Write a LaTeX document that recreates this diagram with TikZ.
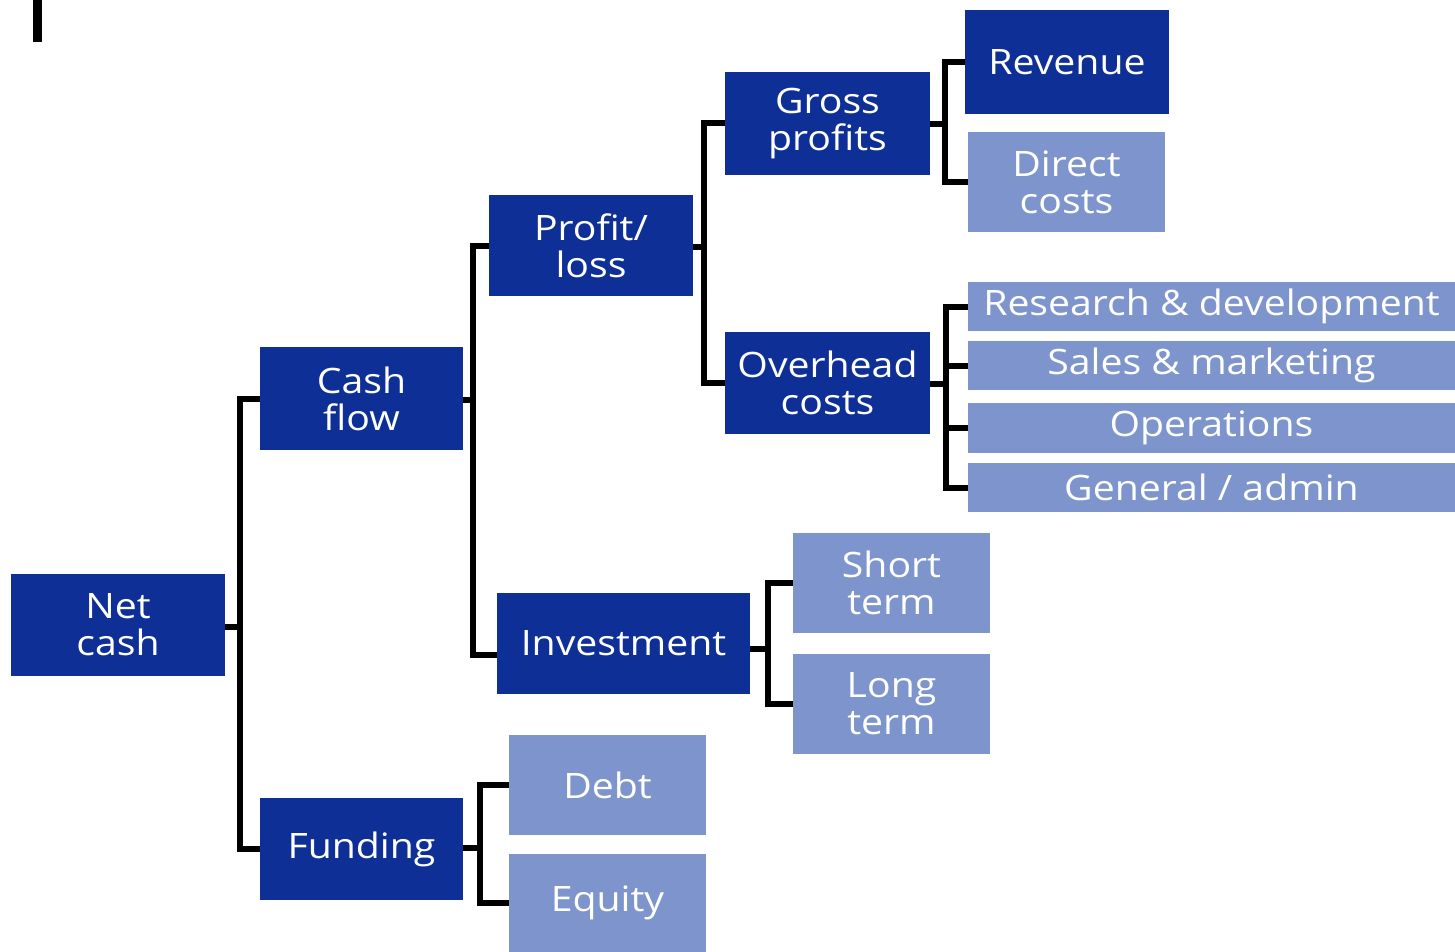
\documentclass[tikz,border=0pt]{standalone}
\usepackage{fontspec}
\setmainfont{Open Sans}[FakeStretch=1.12]
\definecolor{darkbox}{RGB}{14,48,150}
\definecolor{lightbox}{RGB}{126,148,204}
\begin{document}
\begin{tikzpicture}[x=1pt,y=-1pt,
  box/.style={rectangle, inner sep=0pt, text=white, align=center,
    font=\fontsize{35}{37}\selectfont},
  dbox/.style={box, fill=darkbox},
  lbox/.style={box, fill=lightbox},
  conn/.style={draw=black, line width=6pt, line cap=butt, line join=miter}]
\useasboundingbox (0,0) rectangle (1455,952);
% small mark top-left
\fill[black] (33,0) rectangle (42,42);
% boxes (centre, width, height in px)
\node[dbox, minimum width=214pt, minimum height=102pt] (net)   at (118,625)   {Net\\cash};
\node[dbox, minimum width=203pt, minimum height=103pt] (cf)    at (361.5,398.5) {Cash\\flow};
\node[dbox, minimum width=203pt, minimum height=102pt] (fund)  at (361.5,849) {Funding};
\node[dbox, minimum width=204pt, minimum height=101pt] (pl)    at (591,245.5) {Profit/\\loss};
\node[dbox, minimum width=253pt, minimum height=101pt] (inv)   at (623.5,643.5) {Investment};
\node[dbox, minimum width=205pt, minimum height=103pt] (gp)    at (827.5,123.5) {Gross\\profits};
\node[dbox, minimum width=205pt, minimum height=102pt] (oh)    at (827.5,383) {Overhead\\costs};
\node[dbox, minimum width=204pt, minimum height=104pt] (rev)   at (1067,62)   {Revenue};
\node[lbox, minimum width=197pt, minimum height=100pt] (dc)    at (1066.5,182) {Direct\\costs};
\node[lbox, minimum width=487pt, minimum height=49pt]  (rd)    at (1211.5,306.5) {Research \& development};
\node[lbox, minimum width=487pt, minimum height=49pt]  (sm)    at (1211.5,365.5) {Sales \& marketing};
\node[lbox, minimum width=487pt, minimum height=50pt]  (ops)   at (1211.5,428) {Operations};
\node[lbox, minimum width=487pt, minimum height=49pt]  (ga)    at (1211.5,487.5) {General / admin};
\node[lbox, minimum width=197pt, minimum height=100pt] (st)    at (891.5,583) {Short\\term};
\node[lbox, minimum width=197pt, minimum height=100pt] (lt)    at (891.5,704) {Long\\term};
\node[lbox, minimum width=197pt, minimum height=100pt] (debt)  at (607.5,785) {Debt};
\node[lbox, minimum width=197pt, minimum height=98pt]  (eq)    at (607.5,903) {Equity};
% bus coordinates
\coordinate (b1) at (240,627);
\coordinate (b2) at (473,400);
\coordinate (b3) at (704,247);
\coordinate (b4) at (945,124);
\coordinate (b5) at (946,384);
\coordinate (b6) at (768,649);
\coordinate (b7) at (480,848);
% connectors
\draw[conn] (b1 -| net.east) -- (b1);
\draw[conn] (cf.west) -| (b1) |- (fund.west);
\draw[conn] (b2 -| cf.east) -- (b2);
\draw[conn] (pl.west) -| (b2) |- ([yshift=-11pt]inv.west);
\draw[conn] (b3 -| pl.east) -- (b3);
\draw[conn] (gp.west) -| (b3) |- (oh.west);
\draw[conn] (b4 -| gp.east) -- (b4);
\draw[conn] (rev.west) -| (b4) |- (dc.west);
\draw[conn] (b5 -| oh.east) -- (b5);
\draw[conn] (rd.west) -| (b5) |- (ga.west);
\draw[conn] (b5 |- sm.west) -- (sm.west);
\draw[conn] (b5 |- ops.west) -- (ops.west);
\draw[conn] (b6 -| inv.east) -- (b6);
\draw[conn] (st.west) -| (b6) |- (lt.west);
\draw[conn] (b7 -| fund.east) -- (b7);
\draw[conn] (debt.west) -| (b7) |- (eq.west);
\end{tikzpicture}
\end{document}
